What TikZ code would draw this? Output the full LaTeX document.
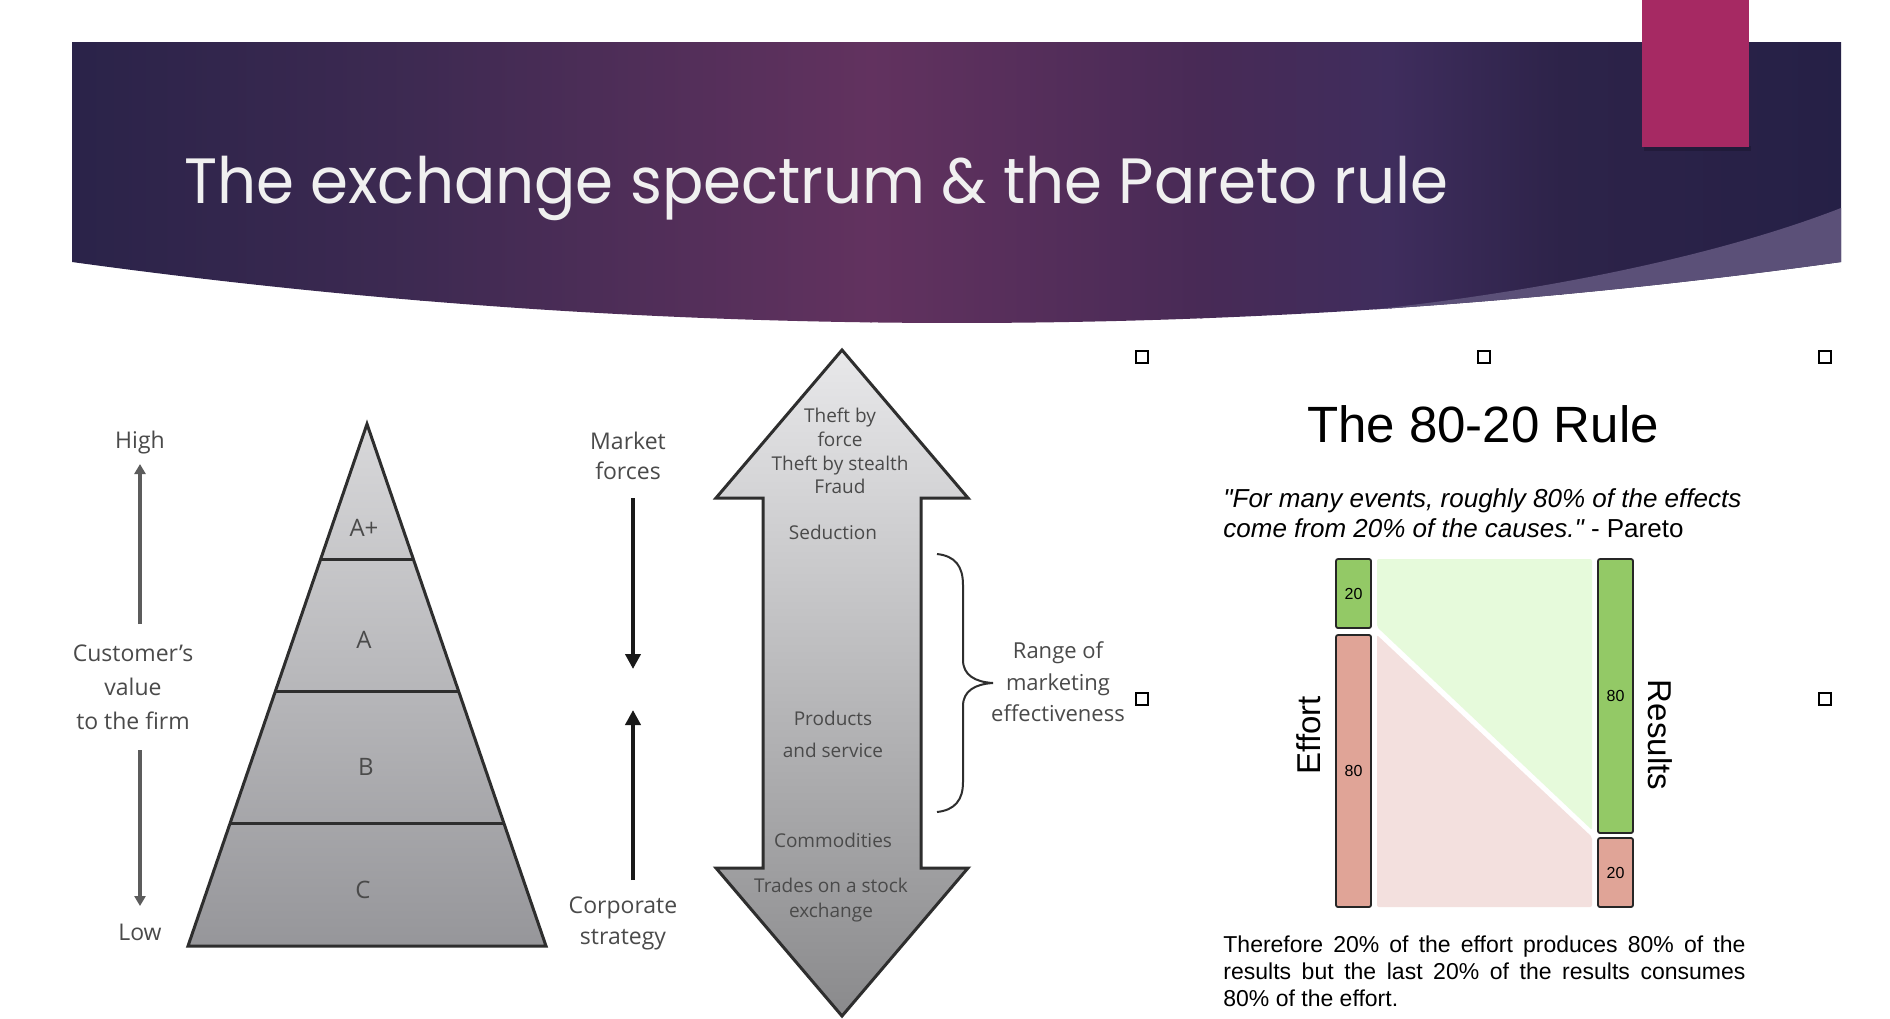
\documentclass[tikz,border=0pt]{standalone}
\usepackage{fontspec}
\usepackage{graphicx}
\setmainfont{Liberation Sans}[Ligatures=TeXOff]
\newfontfamily\titlefont{Poppins}
\newfontfamily\figfont{Open Sans}
\usetikzlibrary{arrows.meta,calc}
\definecolor{bandA}{HTML}{2A2349}
\definecolor{bandB}{HTML}{3E2A52}
\definecolor{bandC}{HTML}{62325F}
\definecolor{bandD}{HTML}{482A56}
\definecolor{bandE}{HTML}{3F2D5D}
\definecolor{bandF}{HTML}{2D2349}
\definecolor{bandG}{HTML}{252046}
\definecolor{crescent}{HTML}{5B5078}
\definecolor{magentabar}{HTML}{A62963}
\definecolor{titlecol}{HTML}{F0F0F0}
\definecolor{pyrtop}{HTML}{D8D8DA}
\definecolor{pyrbot}{HTML}{96969A}
\definecolor{arrtop}{HTML}{E8E8EA}
\definecolor{arrmid}{HTML}{C6C6C8}
\definecolor{arrbot}{HTML}{8A8A8C}
\definecolor{figgray}{HTML}{4A4A4A}
\definecolor{outl}{HTML}{2E2E2E}
\definecolor{gbox}{HTML}{93C966}
\definecolor{rbox}{HTML}{E0A497}
\definecolor{garea}{HTML}{E6FADB}
\definecolor{rarea}{HTML}{F3E0DE}
\begin{document}
\begin{tikzpicture}[x=0.5pt,y=-0.5pt,
  figtxt/.style={font=\figfont\fontsize{11.5}{17}\selectfont, text=figgray, align=center, inner sep=0pt},
  arrtxt/.style={font=\figfont\fontsize{9.5}{11.9}\selectfont, text=figgray, align=center, inner sep=0pt},
  pyrtxt/.style={font=\figfont\fontsize{12}{14}\selectfont, text=figgray, inner sep=0pt},
  pyrline/.style={draw=outl, line width=1.5pt},
  grayarr/.style={draw=figgray!90, line width=1.6pt, -{Triangle[length=5pt,width=5.5pt]}},
  blackarr/.style={draw=black!90, line width=2pt, -{Triangle[length=7.5pt,width=7.5pt]}},
  handle/.style={draw=black, fill=white, line width=0.7pt, minimum size=6pt, inner sep=0pt},
  chartbox/.style={draw=black!85, line width=0.9pt, rounded corners=1pt, minimum width=17.5pt, inner sep=0pt, font=\fontsize{8}{9}\selectfont},
  rtxt/.style={inner sep=0pt, text=black}]
\useasboundingbox (0,0) rectangle (1890,1018);
\fill[white] (0,0) rectangle (1890,1018);

% ---------- header band ----------
\begin{scope}
  \clip (72,42) -- (1841,42) -- (1841,262) .. controls (1252,343.3) and (662,343.3) .. (72,262) -- cycle;
  \shade[left color=bandA, right color=bandB] (70,40) rectangle (422,340);
  \shade[left color=bandB, right color=bandC] (420,40) rectangle (872,340);
  \shade[left color=bandC, right color=bandD] (870,40) rectangle (1202,340);
  \shade[left color=bandD, right color=bandE] (1200,40) rectangle (1392,340);
  \shade[left color=bandE, right color=bandF] (1390,40) rectangle (1562,340);
  \shade[left color=bandF, right color=bandG] (1560,40) rectangle (1845,340);
  \fill[crescent] (1374,309.4) .. controls (1550,290) and (1720,255) .. (1841,208) -- (1850,208) -- (1850,400) -- (1300,400) -- cycle;
\end{scope}
\fill[black, opacity=0.18] (1644,146) rectangle (1751,151);
\fill[magentabar] (1642,0) rectangle (1749,147);
\node[anchor=base west, font=\titlefont\fontsize{32}{38}\selectfont, text=titlecol, inner sep=0pt] (title) at (184,203) {\scalebox{0.955}[1]{The exchange spectrum \& the Pareto rule}};

% ---------- pyramid ----------
\coordinate (apex) at (367,424);
\coordinate (bl) at (188,946);
\coordinate (br) at (546,946);
\shade[top color=pyrtop, bottom color=pyrbot] (apex) -- (br) -- (bl) -- cycle;
\draw[pyrline] ($(apex)!0.2605!(bl)$) -- ($(apex)!0.2605!(br)$);
\draw[pyrline] ($(apex)!0.5115!(bl)$) -- ($(apex)!0.5115!(br)$);
\draw[pyrline] ($(apex)!0.7644!(bl)$) -- ($(apex)!0.7644!(br)$);
\draw[pyrline, line join=miter] (apex) -- (br) -- (bl) -- cycle;
\node[pyrtxt] (aplus) at (364,528) {A+};
\node[pyrtxt] (aseg) at (364,640) {A};
\node[pyrtxt] (bseg) at (366,767) {B};
\node[pyrtxt] (cseg) at (363,890) {C};

\node[figtxt] (high) at (140,443) {High};
\node[figtxt] (low) at (140,932) {Low};
\node[figtxt] (custval) at (133,687) {Customer’s\\value\\to the firm};
\coordinate (upA) at (140,624);
\coordinate (upB) at (140,464);
\coordinate (dnA) at (140,750);
\coordinate (dnB) at (140,906);
\draw[grayarr] (upA) -- (upB);
\draw[grayarr] (dnA) -- (dnB);

% ---------- exchange spectrum ----------
\node[figtxt, font=\figfont\fontsize{11.5}{15}\selectfont] (market) at (628,456) {Market\\forces};
\node[figtxt, font=\figfont\fontsize{11.5}{15.5}\selectfont] (corp) at (623,923) {Corporate\\strategy};
\coordinate (mfA) at (633,498);
\coordinate (mfB) at (633,669);
\coordinate (csA) at (633,880);
\coordinate (csB) at (633,710);
\draw[blackarr] (mfA) -- (mfB);
\draw[blackarr] (csA) -- (csB);

\path[draw=outl, line width=1.5pt, line join=miter, top color=arrtop, middle color=arrmid, bottom color=arrbot]
  (842,350) -- (968,498) -- (921,498) -- (921,868) -- (968,868) -- (842,1016)
  -- (716,868) -- (763,868) -- (763,498) -- (716,498) -- cycle;

\node[arrtxt] (theft) at (840,451) {Theft by\\force\\Theft by stealth\\Fraud};
\node[arrtxt] (seduction) at (833,532) {Seduction};
\node[arrtxt, font=\figfont\fontsize{9.5}{16}\selectfont] (products) at (833,734) {Products\\and service};
\node[arrtxt] (commod) at (833,840) {Commodities};
\node[arrtxt, font=\figfont\fontsize{9.5}{12.5}\selectfont] (trades) at (831,900) {Trades on a stock\\exchange};

\draw[draw=outl, line width=1pt] (937,554) .. controls (955,556) and (963,566) .. (963,585) -- (963,660)
  .. controls (963,675) and (975,682) .. (993,683) .. controls (975,684) and (963,691) .. (963,706)
  -- (963,782) .. controls (963,800) and (955,810) .. (937,812);
\node[figtxt, font=\figfont\fontsize{11}{15.75}\selectfont] (range) at (1058,682) {Range of\\marketing\\effectiveness};

% ---------- selection handles ----------
\node[handle] (h1) at (1142,357) {};
\node[handle] (h2) at (1484,357) {};
\node[handle] (h3) at (1825,357) {};
\node[handle] (h4) at (1142,699) {};
\node[handle] (h5) at (1825,699) {};

% ---------- 80-20 rule ----------
\node[rtxt, font=\fontsize{25.5}{30}\selectfont] (rule) at (1483,424) {The 80-20 Rule};
\node[rtxt, anchor=west, align=left, font=\fontsize{13}{15}\selectfont] (quote) at (1223,513)
  {{\itshape "For many events, roughly 80\% of the effects}\\{\itshape come from 20\% of the causes."} - Pareto};

\fill[garea, rounded corners=1pt] (1377,559) -- (1592,559) -- (1592,830) -- (1377,627) -- cycle;
\fill[rarea, rounded corners=1pt] (1377,635) -- (1592,837) -- (1592,907) -- (1377,907) -- cycle;

\node[chartbox, fill=gbox, minimum height=34.5pt] (effG) at (1353.5,593.5) {20};
\node[chartbox, fill=rbox, minimum height=136pt] (effR) at (1353.5,771) {80};
\node[chartbox, fill=gbox, minimum height=137pt] (resG) at (1615.5,696) {80};
\node[chartbox, fill=rbox, minimum height=34.5pt] (resR) at (1615.5,872.5) {20};

\node[rtxt, rotate=90, font=\fontsize{16.5}{18}\selectfont] (effort) at (1309,735) {Effort};
\node[rtxt, rotate=-90, font=\fontsize{16.5}{18}\selectfont] (results) at (1660,735) {Results};

\node[rtxt, anchor=west, text width=261pt, align=justify, font=\fontsize{11.5}{13.5}\selectfont] (concl) at (1223,971)
  {\hyphenpenalty=10000 Therefore 20\% of the effort produces 80\% of the\linebreak{} results but the last 20\% of the results consumes\linebreak{} 80\% of the effort.};
\end{tikzpicture}
\end{document}
